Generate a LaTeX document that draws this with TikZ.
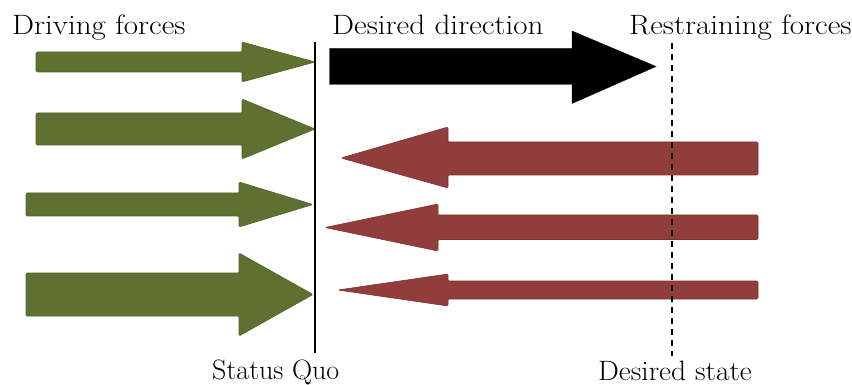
\documentclass[tikz,border=0pt]{standalone}
\usepackage{graphicx}
\definecolor{drivegreen}{RGB}{94,113,48}
\definecolor{drivegreenedge}{RGB}{82,99,42}
\definecolor{restrainred}{RGB}{145,61,59}
\definecolor{restrainrededge}{RGB}{128,52,50}
\newcommand\widetext[2][1.11]{\scalebox{#1}[1]{#2}}
\tikzset{
  garrow/.style={fill=drivegreen, draw=drivegreenedge, line width=0.6pt, rounded corners=1.2pt},
  rarrow/.style={fill=restrainred, draw=restrainrededge, line width=0.6pt, rounded corners=1.2pt},
  barrow/.style={fill=black, draw=black, line width=0.4pt},
  lbl/.style={inner sep=0pt, anchor=base west, font=\rmfamily\fontsize{28}{33}\selectfont},
}
\begin{document}
\begin{tikzpicture}[x=1pt, y=-1pt]
\useasboundingbox (0,0) rectangle (852,385);
% driving forces (green)
\draw[garrow] (36,52) -- (242,52) -- (242,42) -- (315,62) -- (242,82) -- (242,72) -- (36,72) -- cycle;
\draw[garrow] (36,113) -- (242,113) -- (242,99) -- (315,129) -- (242,159) -- (242,145) -- (36,145) -- cycle;
\draw[garrow] (26,193) -- (239,193) -- (239,182) -- (313,204.5) -- (239,227) -- (239,216) -- (26,216) -- cycle;
\draw[garrow] (26,273) -- (239,273) -- (239,253) -- (313,294.5) -- (239,336) -- (239,316) -- (26,316) -- cycle;
% desired direction (black)
\draw[barrow] (329.5,48.5) -- (572,48.5) -- (572,31) -- (656,66.5) -- (572,103.5) -- (572,84.5) -- (329.5,84.5) -- cycle;
% restraining forces (red)
\draw[rarrow] (758,142) -- (448,142) -- (448,127) -- (341,158) -- (448,188) -- (448,175) -- (758,175) -- cycle;
\draw[rarrow] (758,215) -- (438,215) -- (438,204) -- (325,227.5) -- (438,251) -- (438,239.5) -- (758,239.5) -- cycle;
\draw[rarrow] (758,281) -- (448,281) -- (448,274) -- (338,290) -- (448,306) -- (448,299) -- (758,299) -- cycle;
% status quo line and desired state line
\coordinate (sqtop) at (315,42);
\coordinate (sqbot) at (315,353);
\coordinate (dstop) at (672,43);
\coordinate (dsbot) at (672,356);
\draw[line width=1.6pt] (sqtop) -- (sqbot);
\draw[line width=2.4pt, dash pattern=on 6pt off 5pt] (dstop) -- (dsbot);
% labels
\node[lbl] (driving) at (12,35) {\widetext{Driving forces}};
\node[lbl] (direction) at (332,35) {\widetext{Desired direction}};
\node[lbl] (restraining) at (629,35) {\widetext{Restraining forces}};
\node[lbl] (statusquo) at (212,379) {\widetext[1.0]{Status Quo}};
\node[lbl] (desiredstate) at (598,380) {\widetext[1.05]{Desired state}};
\end{tikzpicture}
\end{document}
